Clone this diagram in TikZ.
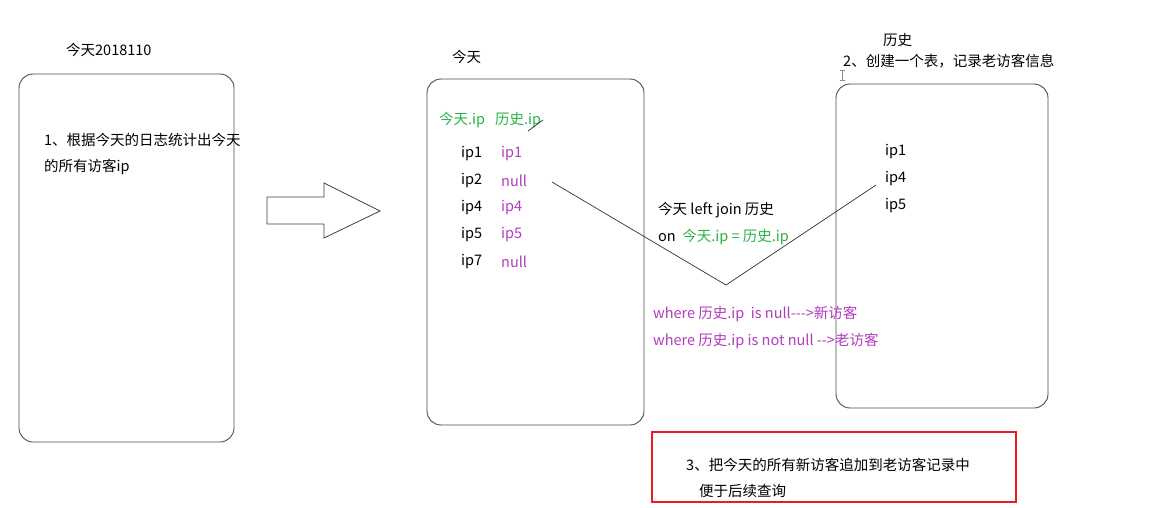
\documentclass[tikz,border=0pt]{standalone}
\usepackage{fontspec}
\setmainfont{Noto Sans CJK SC}[Ligatures=TeXOff]
\begin{document}
\begin{tikzpicture}[x=1pt,y=-1pt,
  txt/.style={anchor=west,inner sep=0pt,font=\fontsize{14.5}{17}\selectfont},
  boxs/.style={draw=black!70,line width=0.9pt,rounded corners=14pt},
  thin/.style={draw=black!80,line width=0.7pt}]
\definecolor{mygreen}{RGB}{40,180,70}
\definecolor{mypurple}{RGB}{178,60,190}
\definecolor{myred}{RGB}{232,28,36}
\useasboundingbox (0,0) rectangle (1154,508);
\fill[white] (0,0) rectangle (1154,508);
% boxes
\draw[boxs] (19,74) rectangle (234,442);
\draw[boxs] (427,79) rectangle (644,425);
\draw[boxs] (836,84) rectangle (1048,408);
\draw[myred,line width=2pt] (652,432) rectangle (1016,502);
% block arrow
\draw[black!75,line width=0.8pt] (267,197) -- (324,197) -- (324,183) -- (380,211) -- (324,238) -- (324,224) -- (267,224) -- cycle;
% titles
\node[txt] (t1) at (66,50) {今天2018110};
\node[txt] (t2) at (452,57) {今天};
\node[txt] (t3) at (883,40) {历史};
\node[txt] (t3b) at (843,61) {2、创建一个表，记录老访客信息};
\draw[black!45,line width=0.8pt] (840,70) -- (845,70) (842.5,70) -- (842.5,80) (840,80) -- (845,80);
% box1 text
\node[txt] (s1) at (44,140) {1、根据今天的日志统计出今天};
\node[txt] (s1b) at (44,167) {的所有访客ip};
% box2 text
\node[txt,text=mygreen] (h1) at (439,120) {今天.ip};
\node[txt,text=mygreen] (h2) at (495,120) {历史.ip};
\draw[black!80,line width=0.7pt] (528,131) -- (543,120);
\node[txt] (a1) at (461,154) {ip1};
\node[txt] (a2) at (461,181) {ip2};
\node[txt] (a4) at (461,208) {ip4};
\node[txt] (a5) at (461,235) {ip5};
\node[txt] (a7) at (461,262) {ip7};
\node[txt,text=mypurple] (b1) at (501,154) {ip1};
\node[txt,text=mypurple] (b2) at (501,181) {null};
\node[txt,text=mypurple] (b4) at (501,208) {ip4};
\node[txt,text=mypurple] (b5) at (501,235) {ip5};
\node[txt,text=mypurple] (b7) at (501,262) {null};
% box3 text
\node[txt] (c1) at (885,152) {ip1};
\node[txt] (c4) at (885,179) {ip4};
\node[txt] (c5) at (885,206) {ip5};
% join text
\node[txt] (j1) at (658,210) {今天 left join 历史};
\node[txt] (j2) at (658,237) {on\ \ \textcolor{mygreen}{今天.ip = 历史.ip}};
\node[txt,text=mypurple] (w1) at (653,314) {where 历史.ip\ \ is null-{}-{}->新访客};
\node[txt,text=mypurple] (w2) at (653,341) {where 历史.ip is not null -{}->老访客};
% V lines
\coordinate (vl) at (552,182);
\coordinate (vb) at (726,285);
\coordinate (vr) at (876,185);
\draw[thin] (vl) -- (vb) -- (vr);
% red box text
\node[txt] (r1) at (686,465) {3、把今天的所有新访客追加到老访客记录中};
\node[txt] (r2) at (699,491) {便于后续查询};
\end{tikzpicture}
\end{document}
